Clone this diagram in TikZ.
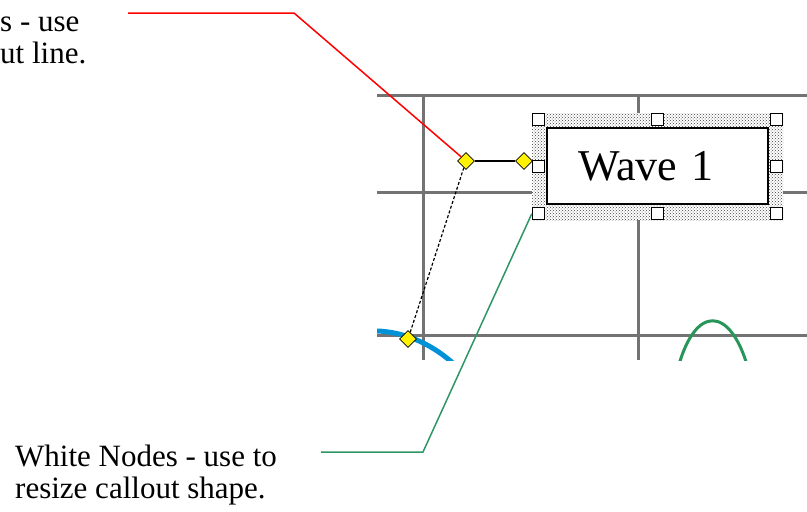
\documentclass[tikz,border=0pt]{standalone}
\usepackage{fontspec}
\setmainfont{Liberation Serif}
\usepackage{xcolor}
\usetikzlibrary{shapes.geometric, patterns}

\definecolor{waveblue}{RGB}{0,146,214}
\definecolor{wavegreen}{RGB}{40,150,90}
\definecolor{tipgreen}{RGB}{46,150,100}

\begin{document}
\begin{tikzpicture}[x=1pt, y=-1pt]
    \tikzstyle{note} = [align=left, inner sep=0pt, anchor=base west, font=\fontsize{31}{32}\selectfont]
    \tikzstyle{gridline} = [line width=3pt, black!55]
    \tikzstyle{selframe} = [rectangle, preaction={fill=white}, pattern=crosshatch dots, pattern color=black!75, minimum width=251pt, minimum height=107pt, inner sep=0pt]
    \tikzstyle{callout} = [rectangle, draw=black, line width=1.5pt, fill=white, minimum width=221pt, minimum height=76pt, text width=159pt, align=left, inner sep=0pt, font=\fontsize{44}{48}\selectfont]
    \tikzstyle{handle} = [rectangle, draw=black, line width=1pt, fill=white, minimum size=12pt, inner sep=0pt]
    \tikzstyle{knob} = [diamond, draw=black, line width=0.8pt, fill=yellow, minimum size=17pt, inner sep=0pt]

    \useasboundingbox (0,0) rectangle (807,512);

    % piece of the chart
    \begin{scope}
        \clip (377,93) rectangle (807,360);
        \draw[gridline] (377,95) -- (807,95);
        \draw[gridline] (377,192) -- (807,192);
        \draw[gridline] (377,335) -- (807,335);
        \draw[gridline] (423,95) -- (423,360);
        \draw[gridline] (638,95) -- (638,360);
        \draw[line width=5pt, waveblue] (370,331) .. controls (400,330) and (430,342) .. (455,365);
        \draw[line width=3pt, wavegreen] (678,368) .. controls (695,305) and (730,305) .. (748,368);
    \end{scope}

    % selected callout
    \node (sel) [selframe] at (657.5,166.5) {};
    \node (wave) [callout] at (657.5,166) {Wave 1};
    \foreach \a/\n in {north west/nw, north/n, north east/ne, east/e, south east/se, south/s, south west/sw, west/w}
        \node (h-\n) [handle, anchor=\a] at (sel.\a) {};

    \node (k1) [knob] at (466,161) {};
    \node (k2) [knob] at (524,161) {};
    \node (k3) [knob] at (408,339) {};
    \draw[line width=1.2pt] (k1) -- (k2);
    \draw[line width=1.2pt, densely dashed] (k1) -- (k3);

    % notes
    \node (tip1) [note] at (0,63) {s - use\\ut line.};
    \node (tip2) [note] at (15,498) {White Nodes - use to\\resize callout shape.};

    \coordinate (r0) at (128,13);
    \coordinate (r1) at (294,13);
    \draw[red, line width=1.5pt] (r0) -- (r1) -- (k1);

    \coordinate (g0) at (321,452);
    \coordinate (g1) at (423,452);
    \draw[tipgreen, line width=1.5pt] (g0) -- (g1) -- (h-sw.west);
\end{tikzpicture}
\end{document}
